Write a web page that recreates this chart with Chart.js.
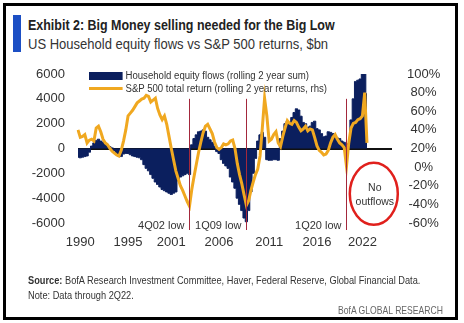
<!DOCTYPE html>
<html lang="en">
<head>
<meta charset="UTF-8" />
<title>Exhibit 2: Big Money selling needed for the Big Low</title>
<script src="https://cdn.jsdelivr.net/npm/chart.js"></script>
<style>
  body { margin: 0; background: #fff; color: #333; font-family: "Liberation Sans", Arial, sans-serif; }
  .page { position: relative; width: 464px; height: 323px; overflow: hidden; }
  .frame { position: absolute; left: 3px; top: 3px; width: 455px; height: 317px; border: 3px solid #000; box-sizing: border-box; }
  .bar { position: absolute; left: 13px; top: 15px; width: 8px; height: 37px; background: #1c4fc4; }
  .title { position: absolute; left: 28px; top: 17px; font-size: 14px; font-weight: bold; color: #222; white-space: nowrap; transform: scaleX(0.89); transform-origin: left; }
  .sub { position: absolute; left: 28px; top: 36px; font-size: 14px; color: #333; white-space: nowrap; transform: scaleX(0.93); transform-origin: left; }
  canvas { position: absolute; left: 0; top: 0; }
  .legend { position: absolute; left: 89px; top: 69px; font-size: 10px; color: #333; line-height: 13px; white-space: nowrap; transform: scaleX(0.96); transform-origin: left; }
  .legend div { display: flex; align-items: center; }
  .sw { display: inline-block; width: 35px; margin-right: 3px; }
  .sw.flow { height: 8px; background: #0b1f5e; }
  .sw.ret { height: 3px; background: #f0a820; }
  .foot { position: absolute; left: 28px; font-size: 10.5px; color: #333; white-space: nowrap; transform: scaleX(0.88); transform-origin: left; }
  .brand { position: absolute; right: 21px; top: 304px; font-size: 10.5px; color: #666; white-space: nowrap; transform: scaleX(0.82); transform-origin: right; }
</style>
</head>
<body>
<div class="page">
  <div class="frame"></div>
  <div class="bar"></div>
  <div class="title">Exhibit 2: Big Money selling needed for the Big Low</div>
  <div class="sub">US Household equity flows vs S&amp;P 500 returns, $bn</div>
  <canvas id="chart" width="464" height="323"></canvas>
  <div class="legend">
    <div><span class="sw flow"></span>Household equity flows (rolling 2 year sum)</div>
    <div><span class="sw ret"></span>S&amp;P 500 total return (rolling 2 year returns, rhs)</div>
  </div>
  <div class="foot" style="top:274px"><b>Source:</b> BofA Research Investment Committee, Haver, Federal Reserve, Global Financial Data.</div>
  <div class="foot" style="top:289px">Note: Data through 2Q22.</div>
  <div class="brand">BofA GLOBAL RESEARCH</div>
</div>

<script>
// quarterly categories, 1990Q3 .. 2025Q1 (data runs to 2022Q2, the rest is empty axis room)
const quarters = [];
for (let yr = 1990; yr <= 2025; yr++) {
  for (let q = 1; q <= 4; q++) {
    if (yr === 1990 && q < 3) continue;
    if (yr === 2025 && q > 1) continue;
    quarters.push(yr + 'Q' + q);
  }
}

const tickQuarters = ['1990Q4', '1996Q1', '2000Q4', '2006Q1', '2011Q3', '2016Q4', '2021Q4'];
const tickLabels = ['1990', '1995', '2001', '2006', '2011', '2016', '2022'];

// household equity flows, rolling 2y sum, $bn
const flows = [
  -700, -750, -700, -650, -600, -300, 200, 450, 650, 750,
  600, 500, 400, 250, 150, 50, -200, -450, -650, -650,
  -450, -400, -400, -500, -600, -650, -700, -750, -900, -1300,
  -1600, -1800, -2100, -2400, -2700, -2900, -3100, -3300, -3400, -3500,
  -3600, -3700, -3600, -3500, -2600, -2300, -2200, -2100, -2000, -2100,
  300, 800, 1100, 1350, 1400, 1500, 1400, 900, 700, 500,
  200, -250, -400, -900, -1200, -1400, -1600, -2300, -2700, -3200,
  -4000, -4500, -5000, -5600, -5900, -5000, -3500, -2000, -800, 600,
  1100, 1300, 900, -900, -950, -950, -900, -900, -950, 800,
  1400, 2000, 2200, 2100, 2500, 2900, 3200, 3100, 2600, 2100,
  2000, 1700, 1800, 2100, 2200, 1600, 1500, 1200, 950, 1000,
  1350, 1300, 1200, 900, 850, 800, 600, 500, 250, 400,
  2300, 4000, 5400, 5500, 5600, 6100, 6100, 4400
];

// S&P 500 total return, rolling 2y, %
const spxReturn = [
  40, 32, 33, 35, 26, 29, 30, 28, 42, 44,
  38, 30, 26, 24, 20, 17, 15, 13, 12, 18,
  28, 40, 55, 58, 61, 65, 69, 71, 73, 74,
  77, 76, 70, 72, 74, 63, 56, 51, 55, 46,
  33, 20, 8, -4, -12, -20, -25, -31, -37, -42,
  -24, -10, 3, 16, 27, 37, 44, 46, 41, 36,
  27, 21, 19, 21, 25, 24, 25, 28, 29, 20,
  4, -8, -18, -30, -41, -36, -25, -16, -8, -2,
  12, 42, 74, 55, 28, 30, 35, 38, 26, 22,
  33, 42, 50, 47, 46, 50, 48, 43, 39, 41,
  44, 39, 41, 40, 32, 23, 18, 16, 13, 14,
  18, 26, 32, 35, 30, 26, 24, 21, 1, 26,
  42, 47, 48, 51, 52, 55, 80, 26
];

const lowQuarters = ['2002Q4', '2009Q1', '2020Q1'];
const lowLabels = ['4Q02 low', '1Q09 low', '1Q20 low'];

const font = '"Liberation Sans", Arial, sans-serif';

// red marker lines, their labels and the "No outflows" circle
const marks = {
  id: 'marks',
  afterDatasetsDraw(chart) {
    const { ctx, chartArea, scales } = chart;
    const x = scales.x, y = scales.y;
    ctx.save();
    lowQuarters.forEach((q, k) => {
      const px = Math.round(x.getPixelForValue(quarters.indexOf(q))) + 0.5;
      ctx.strokeStyle = '#a3283c';
      ctx.lineWidth = 1;
      ctx.beginPath();
      ctx.moveTo(px, y.getPixelForValue(4000));
      ctx.lineTo(px, chartArea.bottom + 7);
      ctx.stroke();
      ctx.fillStyle = '#333';
      ctx.font = '11px ' + font;
      ctx.textAlign = 'right';
      ctx.textBaseline = 'middle';
      ctx.fillText(lowLabels[k], px - 5, chartArea.bottom + 3);
    });
    const cx = x.getPixelForValue(quarters.indexOf('2023Q1'));
    const cy = y.getPixelForValue(-3650);
    ctx.strokeStyle = '#e0201c';
    ctx.lineWidth = 2.5;
    ctx.beginPath();
    ctx.ellipse(cx, cy, 24, 31, 0, 0, Math.PI * 2);
    ctx.stroke();
    ctx.fillStyle = '#333';
    ctx.font = '10.5px ' + font;
    ctx.textAlign = 'center';
    ctx.fillText('No', cx + 1, cy - 6);
    ctx.fillText('outflows', cx + 1, cy + 8);
    ctx.restore();
  }
};

new Chart(document.getElementById('chart'), {
  type: 'line',
  data: {
    labels: quarters,
    datasets: [{
      label: 'S&P 500 total return (rolling 2 year returns, rhs)',
      data: spxReturn,
      yAxisID: 'y1',
      borderColor: '#f0a820',
      borderWidth: 3,
      pointRadius: 0,
      tension: 0,
      order: 0
    }, {
      label: 'Household equity flows (rolling 2 year sum)',
      data: flows,
      yAxisID: 'y',
      stepped: 'middle',
      fill: 'origin',
      backgroundColor: '#0b1f5e',
      borderColor: '#0b1f5e',
      borderWidth: 1,
      pointRadius: 0,
      order: 1
    }]
  },
  options: {
    responsive: false,
    animation: false,
    layout: { padding: { left: 20, right: 20, top: 74, bottom: 0 } },
    plugins: { legend: { display: false }, tooltip: { enabled: false } },
    scales: {
      x: {
        grid: { display: false, drawTicks: false },
        border: { display: false },
        ticks: {
          autoSkip: false, maxRotation: 0, minRotation: 0, padding: 12,
          color: '#333', font: { family: font, size: 13 },
          callback(v, i) {
            const k = tickQuarters.indexOf(quarters[i]);
            return k >= 0 ? tickLabels[k] : '';
          }
        },
        afterFit(s) { s.height = 100; }
      },
      y: {
        position: 'left',
        min: -6000, max: 6000,
        border: { display: false },
        grid: {
          drawTicks: false,
          color: c => c.tick.value === 0 ? '#111' : 'rgba(0,0,0,0)',
          lineWidth: c => c.tick.value === 0 ? 2 : 0
        },
        ticks: {
          stepSize: 2000, padding: 13, color: '#333', font: { family: font, size: 13 },
          callback: v => String(v)
        },
        afterFit(s) { s.width = 58; }
      },
      y1: {
        position: 'right',
        min: -60, max: 100,
        border: { display: false },
        grid: { display: false, drawTicks: false },
        ticks: {
          stepSize: 20, padding: 15, crossAlign: 'center',
          color: '#333', font: { family: font, size: 13 },
          callback: v => v + '%'
        },
        afterFit(s) { s.width = 52; }
      }
    }
  },
  plugins: [marks]
});
</script>
</body>
</html>
